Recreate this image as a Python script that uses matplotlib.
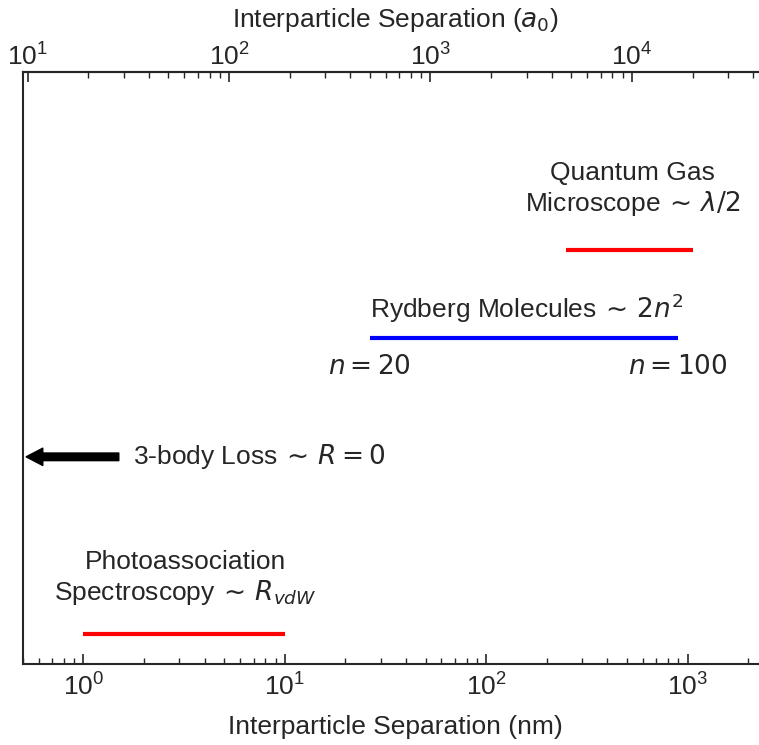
import numpy as np
import matplotlib
matplotlib.use("Agg")
import matplotlib.pyplot as plt
from matplotlib.ticker import FuncFormatter, LogLocator

plt.rcParams["font.family"] = ["Liberation Sans", "DejaVu Sans"]
plt.rcParams["mathtext.fontset"] = "dejavusans"
plt.rcParams["text.color"] = ".15"
plt.rcParams["axes.labelcolor"] = ".15"
plt.rcParams["xtick.color"] = ".15"

# Length scales (nm) and their vertical slots
pa_range = [1.0, 10.0]          # photoassociation spectroscopy ~ R_vdW
rydberg_range = [26.4, 896.0]   # Rydberg molecules, n = 20 ... 100
qgm_range = [250.0, 1064.0]     # quantum gas microscope ~ lambda/2
loss_arrow = [1.5, 0.52]        # 3-body loss, pointing toward R = 0

y_pa, y_loss, y_ryd, y_qgm = 0.05, 0.35, 0.55, 0.70

BOHR_NM = 0.0529177

fig = plt.figure(figsize=(7.59, 7.45), dpi=100)
ax = fig.add_axes([0.0299, 0.1087, 0.983, 0.7946])
ax.set_xscale("log")
ax.set_xlim(0.5, 2530)
ax.set_ylim(0, 1)
ax.set_yticks([])

for s in ax.spines.values():
    s.set_linewidth(1.5)
    s.set_color(".15")
ax.spines["right"].set_visible(False)

fmt = FuncFormatter(lambda v, p: r"$\mathregular{10^{%d}}$" % round(np.log10(v)))
ax.xaxis.set_major_locator(LogLocator(base=10))
ax.xaxis.set_major_formatter(fmt)
ax.tick_params(axis="x", which="major", direction="in", length=7, width=1.2,
               labelsize=19, pad=7)
ax.tick_params(axis="x", which="minor", direction="in", length=4, width=1.0)
ax.set_xlabel("Interparticle Separation (nm)", fontsize=19, labelpad=10)

top = ax.secondary_xaxis("top", functions=(lambda x: x / BOHR_NM,
                                           lambda a: a * BOHR_NM))
top.set_xscale("log")
top.xaxis.set_major_locator(LogLocator(base=10))
top.xaxis.set_major_formatter(fmt)
top.tick_params(axis="x", which="major", direction="in", length=7, width=1.2,
                labelsize=19, pad=1)
top.tick_params(axis="x", which="minor", direction="in", length=4, width=1.0)
top.set_xlabel(r"Interparticle Separation ($a_0$)", fontsize=19, labelpad=12)
top.spines["top"].set_linewidth(1.5)

# Ranges
ax.plot(pa_range, [y_pa, y_pa], color="red", lw=3, solid_capstyle="butt")
ax.plot(rydberg_range, [y_ryd, y_ryd], color="blue", lw=3, solid_capstyle="butt")
ax.plot(qgm_range, [y_qgm, y_qgm], color="red", lw=3, solid_capstyle="butt")

ax.annotate("", xy=(loss_arrow[1], y_loss), xytext=(loss_arrow[0], y_loss),
            arrowprops=dict(facecolor="black", edgecolor="black", width=5.5,
                            headwidth=12.5, headlength=12, shrink=0))

fs = 19
ax.text(532, 0.753, "Quantum Gas\n" + r"Microscope${}\,\sim\,\lambda/2$",
        ha="center", va="bottom", multialignment="center", fontsize=fs)
ax.text(rydberg_range[0], 0.573, r"Rydberg Molecules${}\,\sim\,2n^2$",
        ha="left", va="bottom", fontsize=fs)
ax.text(rydberg_range[0], 0.502, r"$n = 20$", ha="center", va="center", fontsize=fs)
ax.text(rydberg_range[1], 0.502, r"$n = 100$", ha="center", va="center", fontsize=fs)
ax.text(1.76, y_loss, r"3-body Loss${}\,\sim\,R = 0$",
        ha="left", va="center", fontsize=fs)
ax.text(3.2, 0.096, "Photoassociation\n" + r"Spectroscopy${}\,\sim\,R_{vdW}$",
        ha="center", va="bottom", multialignment="center", fontsize=fs)

fig.savefig("out.png", dpi=100)
